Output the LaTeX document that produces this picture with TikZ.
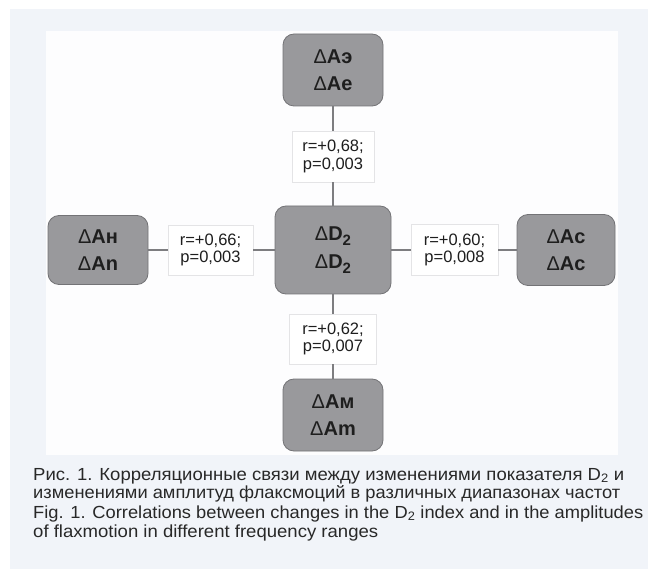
\documentclass[tikz,border=0pt]{standalone}
\usepackage{fontspec}
\setmainfont{Liberation Sans}
\definecolor{outerbg}{RGB}{241,244,249}
\definecolor{panelbg}{RGB}{253,253,254}
\definecolor{boxfill}{RGB}{153,153,156}
\definecolor{boxdraw}{RGB}{115,115,118}
\definecolor{linkcol}{RGB}{125,125,128}
\definecolor{labdraw}{RGB}{228,228,230}
\definecolor{txtcol}{RGB}{30,30,30}
\definecolor{captcol}{RGB}{40,40,40}
\newcommand\dlt{{\mdseries Δ}}
\newcommand\subtwo{\raisebox{-0.28em}{\fontsize{15}{15}\selectfont 2}}
\newcommand\captline[2]{\resizebox{#1}{\height}{#2}}
\tikzset{
  gbox/.style={draw=boxdraw, line width=0.8pt, fill=boxfill, rounded corners=11pt,
    align=center, text=txtcol, font=\fontsize{20}{26}\selectfont\bfseries, inner sep=0pt},
  lab/.style={draw=labdraw, line width=0.6pt, fill=white, align=center, text=txtcol,
    font=\fontsize{16.5}{17.5}\selectfont, inner sep=0pt, minimum width=84pt, minimum height=50pt},
  link/.style={draw=linkcol, line width=1.3pt},
  capt/.style={anchor=base west, inner sep=0pt, text=captcol, font=\fontsize{17.5}{19}\selectfont}
}
\begin{document}
\begin{tikzpicture}[x=1pt,y=-1pt]
\useasboundingbox (0,0) rectangle (648,569);
\fill[white] (-5,-5) rectangle (660,580);
\fill[outerbg] (10,9) rectangle (660,580);
\fill[panelbg] (46,31) rectangle (618,455);

\node[gbox, minimum width=100pt, minimum height=72pt] (top) at (333,70) {\dlt Aэ\\[1pt]\dlt Ae};
\node[gbox, minimum width=100pt, minimum height=69pt] (left) at (98,250) {\dlt Aн\\[1pt]\dlt An};
\node[gbox, minimum width=116pt, minimum height=88pt] (mid) at (333,250) {\dlt D\subtwo\\[2pt]\dlt D\subtwo};
\node[gbox, minimum width=98pt, minimum height=71pt] (right) at (566,250) {\dlt Ac\\[1pt]\dlt Ac};
\node[gbox, minimum width=100pt, minimum height=72pt] (bot) at (333,415) {\dlt Aм\\[1pt]\dlt Am};

\node[lab, minimum width=82pt, minimum height=51pt] (ltop) at (333,156.5) {r=+0,68;\\p=0,003};
\node[lab, minimum width=85pt] (lleft) at (210.5,250) {r=+0,66;\\p=0,003};
\node[lab, minimum width=87pt, minimum height=51pt] (lright) at (454.5,250) {r=+0,60;\\p=0,008};
\node[lab, minimum width=87pt] (lbot) at (333,339) {r=+0,62;\\p=0,007};

\draw[link] (top.south) -- (ltop.north);
\draw[link] (ltop.south) -- (mid.north);
\draw[link] (left.east) -- (lleft.west);
\draw[link] (lleft.east) -- (mid.west);
\draw[link] (mid.east) -- (lright.west);
\draw[link] (lright.east) -- (right.west);
\draw[link] (mid.south) -- (lbot.north);
\draw[link] (lbot.south) -- (bot.north);

\node[capt] (c1) at (33,480) {\captline{591pt}{Рис. 1. Корреляционные связи между изменениями показателя D\textsubscript{2} и}};
\node[capt] (c2) at (33,498) {\captline{587pt}{изменениями амплитуд флаксмоций в различных диапазонах частот}};
\node[capt] (c3) at (33,518) {\captline{610pt}{Fig. 1. Correlations between changes in the D\textsubscript{2} index and in the amplitudes}};
\node[capt] (c4) at (33,537) {\captline{345pt}{of flaxmotion in different frequency ranges}};
\end{tikzpicture}
\end{document}
